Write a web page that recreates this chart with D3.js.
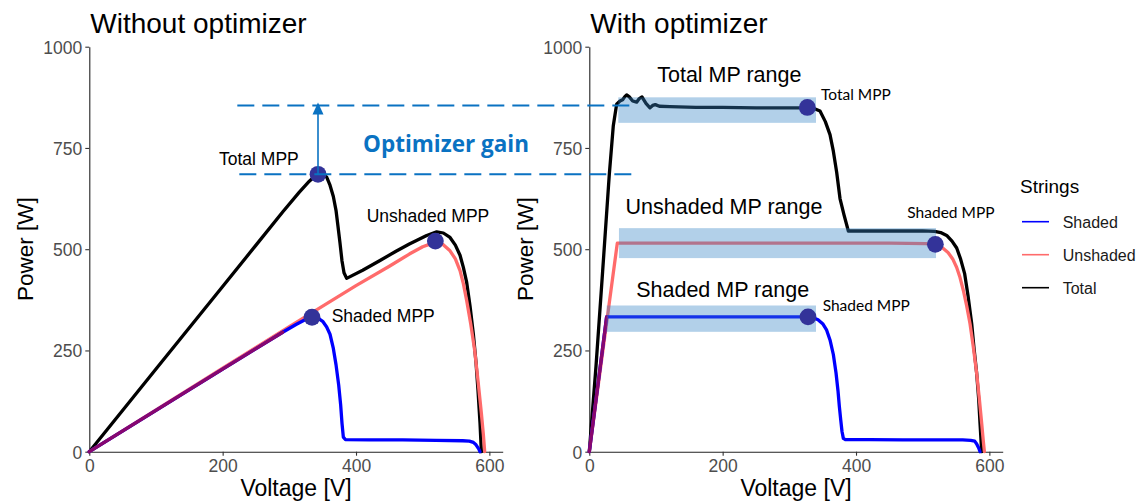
<!DOCTYPE html>
<html>
<head>
<meta charset="utf-8">
<script src="https://cdn.jsdelivr.net/npm/d3@7"></script>
<style>
  body { margin: 0; background: #fff; }
  svg { display: block; }
</style>
</head>
<body>
<svg id="chart" width="1147" height="502"></svg>
<script>
// ---- data -------------------------------------------------------------
const voltageTicks = [0, 200, 400, 600];
const powerTicks = [0, 250, 500, 750, 1000];
const seriesNames = ["Shaded", "Unshaded", "Total"];

// Without optimizer: [voltage V, power W]
const plainShaded = [[0,0],[100,102],[200,204],[290,295],[310,314],[325,327],[334,332],[343,330],[350,322],[356,308],[361,290],[366,255],[370,215],[374,165],[377,115],[379,70],[381,36],[384,30],[420,29],[470,29],[520,28],[560,27],[570,26],[576,23],[580,17],[584,7],[586,0]];
const plainUnshaded = [[0,0],[100,103],[200,206],[300,309],[400,410],[450,458],[480,488],[500,506],[510,512],[519,515],[530,512],[541,496],[549,476],[556,447],[561,415],[566,373],[572,316],[578,250],[583,175],[588,95],[591,42],[593,0]];
const plainTotal = [[0,0],[100,204],[200,408],[250,510],[290,592],[315,641],[330,668],[338,680],[343,685],[350,685],[356,678],[361,658],[366,630],[370,596],[373,556],[376,515],[379,471],[382,442],[386,428],[410,448],[436,472],[460,495],[480,513],[506,534],[521,543],[531,540],[541,529],[549,510],[556,485],[561,455],[566,418],[571,360],[576,290],[580,220],[583,150],[586,70],[588,0]];
const plainOverlapTo = 290;
const plainMpp = [[343,685],[519,520],[334,332]];
const plainMppLabels = ["Total MPP", "Unshaded MPP", "Shaded MPP"];

// With optimizer: [voltage V, power W]
const optShaded = [[0,0],[26,333],[100,333],[200,333],[300,333],[328,333],[336,331],[343,326],[350,316],[356,300],[361,276],[366,240],[370,195],[373,150],[375,112],[377,80],[379,50],[381,33],[384,30],[420,30],[470,29],[520,29],[560,29],[572,28],[578,26],[581,19],[584,9],[586,0]];
const optUnshaded = [[0,0],[42,515],[150,515],[300,515],[450,515],[505,514],[519,510],[530,503],[538,492],[545,476],[551,455],[556,430],[561,398],[566,360],[571,316],[576,258],[581,193],[585,130],[588.5,70],[591,25],[592.5,0]];
const optTotal = [[0,0],[10,210],[20,445],[30,685],[36,805],[41,858],[46,866],[50,869],[53,876],[56,881],[60,876],[65,866],[71,863],[75,872],[79,876],[85,860],[91,849],[95,855],[99,857],[105,853],[121,852],[160,850],[200,850],[250,849],[300,849],[327,849],[336,848],[346,841],[354,815],[361,783],[366,742],[371,690],[376,625],[382,585],[388.5,545],[400,545],[450,545],[500,545],[518,544],[527,541],[536,534],[544,520],[551,503],[557,475],[563,439],[568,385],[573.5,316],[577,255],[581,193],[584,130],[586,70],[588.5,0]];
const optOverlapTo = 26;
const optMpp = [[327,850],[519,512],[328,333]];
const optMppLabels = ["Total MPP", "Shaded MPP", "Shaded MPP"];

// Voltage / power windows where the optimizer holds each maximum power point
const rangeNames = ["Total MP range", "Unshaded MP range", "Shaded MP range"];
const rangeVoltage = [[43.5,340], [44.5,520], [26,340]];
const rangePower = [[812,875], [478,552], [296,361]];

// Height of the optimizer gain arrow
const gainLevels = [685, 855];

// ---- layout & styles --------------------------------------------------
const colors = { Shaded: "#0000FF", Unshaded: "#FF6B6B", Total: "#000000" };
const overlapColor = "#88076E";
const markerColor = "#333399";
const annotationBlue = "#0A72C2";
const sansFont = "'Liberation Sans', Arial, sans-serif";
const humanistFont = "Lato, 'Open Sans', sans-serif";

const svg = d3.select("#chart");
const plotW = 413.4, plotTop = 46.7, plotBottom = 451.7;
const panelLefts = [89.3, 589.3];

const y = d3.scaleLinear().domain([0, 1000]).range([plotBottom, plotTop]);
const xs = panelLefts.map(l => d3.scaleLinear().domain([0, 620]).range([l, l + plotW]));

const line = x => d3.line().x(d => x(d[0])).y(d => y(d[1]));

function drawAxes(g, x) {
  const ax = g.append("g").attr("transform", `translate(0,${plotBottom})`)
    .call(d3.axisBottom(x).tickValues(voltageTicks).tickFormat(d3.format("d"))
      .tickSize(4).tickPadding(4).tickSizeOuter(0));
  const ay = g.append("g").attr("transform", `translate(${x.range()[0]},0)`)
    .call(d3.axisLeft(y).tickValues(powerTicks).tickFormat(d3.format("d"))
      .tickSize(4).tickPadding(3).tickSizeOuter(0));
  [ax, ay].forEach(a => {
    a.select(".domain").attr("stroke", "#222").attr("stroke-width", 1.1);
    a.selectAll(".tick line").attr("stroke", "#333").attr("stroke-width", 1.1);
    a.selectAll(".tick text").attr("fill", "#4D4D4D").style("font-family", sansFont).style("font-size", "17.5px");
  });
  ay.selectAll(".tick text").attr("dy", "0.36em");
  ax.selectAll(".tick text").attr("dy", "0.72em");

  const cx = (x.range()[0] + x.range()[1]) / 2;
  g.append("text").attr("x", cx).attr("y", 496).attr("text-anchor", "middle")
    .style("font-family", sansFont).style("font-size", "23px").attr("fill", "#000")
    .text("Voltage [V]");
  g.append("text")
    .attr("transform", `translate(${x.range()[0] - 56},${(plotTop + plotBottom) / 2}) rotate(-90)`)
    .attr("text-anchor", "middle")
    .style("font-family", sansFont).style("font-size", "22.5px").attr("fill", "#000")
    .text("Power [W]");
}

function drawPanel(i, title, shaded, unshaded, total, overlapTo) {
  const x = xs[i];
  const g = svg.append("g");
  drawAxes(g, x);
  g.append("text").attr("x", x.range()[0] + 1).attr("y", 33)
    .style("font-family", sansFont).style("font-size", "28px").attr("fill", "#000")
    .text(title);

  const lines = g.append("g").attr("fill", "none").attr("stroke-width", 3.3)
    .attr("stroke-linejoin", "round").attr("stroke-linecap", "round");
  lines.append("path").datum(total).attr("d", line(x)).attr("stroke", colors.Total);
  lines.append("path").datum(unshaded).attr("d", line(x)).attr("stroke", colors.Unshaded);
  lines.append("path").datum(shaded).attr("d", line(x)).attr("stroke", colors.Shaded);
  lines.append("path").datum(shaded.filter(d => d[0] <= overlapTo)).attr("d", line(x)).attr("stroke", overlapColor);
  return g;
}

const gPlain = drawPanel(0, "Without optimizer", plainShaded, plainUnshaded, plainTotal, plainOverlapTo);
const gOpt = drawPanel(1, "With optimizer", optShaded, optUnshaded, optTotal, optOverlapTo);

// optimizer ranges (translucent bands over the curves)
const xo = xs[1];
gOpt.append("g").selectAll("rect").data(rangeNames).join("rect")
  .attr("x", (d, i) => xo(rangeVoltage[i][0]))
  .attr("width", (d, i) => xo(rangeVoltage[i][1]) - xo(rangeVoltage[i][0]))
  .attr("y", (d, i) => y(rangePower[i][1]))
  .attr("height", (d, i) => y(rangePower[i][0]) - y(rangePower[i][1]))
  .attr("fill", "rgb(52,132,197)").attr("fill-opacity", 0.38);

// range titles
const rangeLabelAt = [[210, 913], [202, 588], [200, 383]];
gOpt.append("g").selectAll("text").data(rangeNames).join("text")
  .attr("x", (d, i) => xo(rangeLabelAt[i][0])).attr("y", (d, i) => y(rangeLabelAt[i][1]))
  .attr("text-anchor", "middle")
  .style("font-family", sansFont).style("font-size", "21.5px").attr("fill", "#000")
  .text(d => d);

// optimizer gain guides (span both panels)
const xp = xs[0];
const guides = svg.append("g").attr("stroke", annotationBlue).attr("stroke-width", 2.1)
  .attr("stroke-dasharray", "17,8");
guides.append("line").attr("x1", xp(222)).attr("x2", xo(61))
  .attr("y1", y(gainLevels[1])).attr("y2", y(gainLevels[1]));
guides.append("line").attr("x1", xp(225)).attr("x2", xo(63))
  .attr("y1", y(gainLevels[0])).attr("y2", y(gainLevels[0]));

const arrowX = xp(plainMpp[0][0]);
svg.append("line").attr("x1", arrowX).attr("x2", arrowX)
  .attr("y1", y(gainLevels[0])).attr("y2", y(gainLevels[1]) + 6)
  .attr("stroke", annotationBlue).attr("stroke-width", 1.6);
const tipY = y(gainLevels[1]) - 3;
svg.append("path")
  .attr("d", `M${arrowX},${tipY} L${arrowX - 5.5},${tipY + 12} L${arrowX + 5.5},${tipY + 12} Z`)
  .attr("fill", annotationBlue);
svg.append("text").attr("x", xp(410.5)).attr("y", y(741))
  .style("font-family", "'Open Sans', Lato, sans-serif").style("font-size", "22.5px").style("font-weight", "700")
  .attr("fill", annotationBlue).text("Optimizer gain");

// maximum power points
function drawMpp(g, x, pts) {
  g.append("g").selectAll("circle").data(pts).join("circle")
    .attr("cx", d => x(d[0])).attr("cy", d => y(d[1])).attr("r", 8.4)
    .attr("fill", markerColor);
}
drawMpp(gPlain, xp, plainMpp);
drawMpp(gOpt, xo, optMpp);

const plainLabelAt = [[194.5, 708], [416, 568], [363.5, 321]];
gPlain.append("g").selectAll("text").data(plainMppLabels).join("text")
  .attr("x", (d, i) => xp(plainLabelAt[i][0])).attr("y", (d, i) => y(plainLabelAt[i][1]))
  .style("font-family", sansFont).style("font-size", "17.5px").attr("fill", "#000")
  .text(d => d);

const optLabelAt = [[347.5, 868], [477, 577], [350, 348]];
gOpt.append("g").selectAll("text").data(optMppLabels).join("text")
  .attr("x", (d, i) => xo(optLabelAt[i][0])).attr("y", (d, i) => y(optLabelAt[i][1]))
  .style("font-family", humanistFont).style("font-size", "15.5px").attr("fill", "#000")
  .text(d => d);

// legend
const legend = svg.append("g").attr("transform", "translate(1020,0)");
legend.append("text").attr("x", 0).attr("y", 193)
  .style("font-family", sansFont).style("font-size", "19px").attr("fill", "#000")
  .text("Strings");
const item = legend.selectAll("g.item").data(seriesNames).join("g")
  .attr("class", "item").attr("transform", (d, i) => `translate(0,${221.7 + i * 33})`);
item.append("line").attr("x1", 2).attr("x2", 29)
  .attr("stroke", d => colors[d]).attr("stroke-width", 1.6);
item.append("text").attr("x", 42.7).attr("y", 6.5)
  .style("font-family", sansFont).style("font-size", "16px").attr("fill", "#1a1a1a")
  .text(d => d);
</script>
</body>
</html>
